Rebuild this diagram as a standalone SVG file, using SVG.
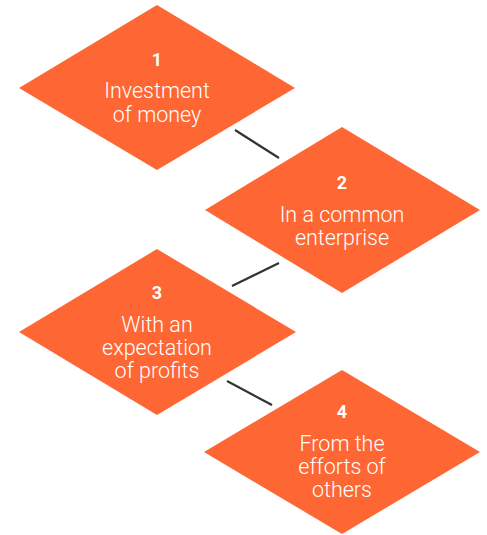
<svg xmlns="http://www.w3.org/2000/svg" width="487" height="535" viewBox="0 0 487 535">
<style>
.d{fill:#FE6634}
.n{font-family:Roboto,"Liberation Sans",sans-serif;font-weight:700;font-size:18px;fill:#fff;text-anchor:middle}
.t{font-family:Roboto,"Liberation Sans",sans-serif;font-weight:300;font-size:21.5px;fill:#fff;text-anchor:middle}
.c{stroke:#333;stroke-width:2.2;fill:none}
</style>
<rect width="487" height="535" fill="#fff"/>
<g id="connectors">
<line class="c" x1="235" y1="130" x2="279" y2="158"/>
<line class="c" x1="232" y1="286" x2="279" y2="263"/>
<line class="c" x1="227" y1="381" x2="272" y2="405"/>
</g>
<g id="node1">
<polygon class="d" points="157,5 295,88 157,170 19,88"/>
<text class="n" x="157" y="66">1</text>
<text class="t" x="157" y="98">Investment</text>
<text class="t" x="157" y="122">of money</text>
</g>
<g id="node2">
<polygon class="d" points="342,127 480,210 342,293 205,210"/>
<text class="n" x="342" y="189">2</text>
<text class="t" x="342" y="222">In a common</text>
<text class="t" x="342" y="245">enterprise</text>
</g>
<g id="node3">
<polygon class="d" points="157,249 296,332 157,415 19,332"/>
<text class="n" x="157" y="299">3</text>
<text class="t" x="157" y="332">With an</text>
<text class="t" x="157" y="355">expectation</text>
<text class="t" x="157" y="378">of profits</text>
</g>
<g id="node4">
<polygon class="d" points="342,370 480,452 342,534 204,452"/>
<text class="n" x="342" y="418">4</text>
<text class="t" x="342" y="451">From the</text>
<text class="t" x="342" y="474">efforts of</text>
<text class="t" x="342" y="497">others</text>
</g>
</svg>
